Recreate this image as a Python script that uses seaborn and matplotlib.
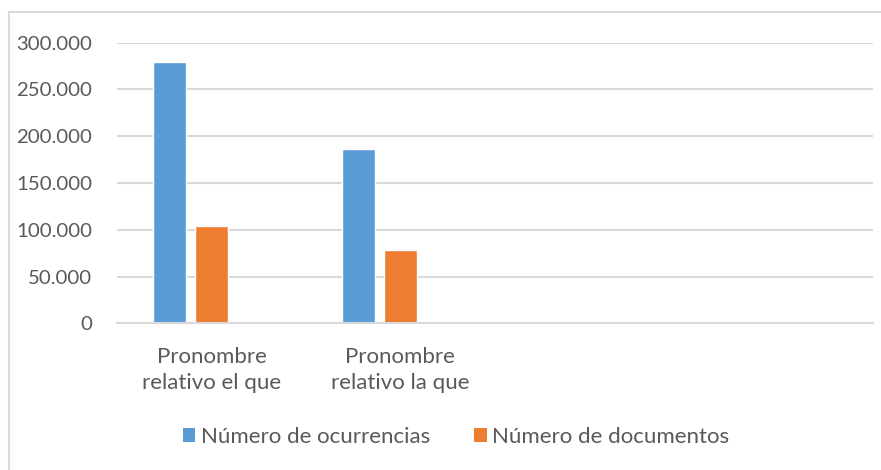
import matplotlib
matplotlib.use("Agg")
import matplotlib.pyplot as plt
from matplotlib.patches import Rectangle, Patch
import seaborn as sns
import pandas as pd
import numpy as np

categories = ["Pronombre\nrelativo el que", "Pronombre\nrelativo la que", "", " "]
series_names = ["Número de ocurrencias", "Número de documentos", "_empty"]
ocurrencias = [279500, 186000, np.nan, np.nan]
documentos = [104500, 78500, np.nan, np.nan]
empty_series = [np.nan, np.nan, np.nan, np.nan]
yticks = [0, 50000, 100000, 150000, 200000, 250000, 300000]
ytick_labels = ["0", "50.000", "100.000", "150.000", "200.000", "250.000", "300.000"]
colors = ["#5b9bd5", "#ed7d31", "#a5a5a5"]

rows = []
for name, vals in zip(series_names, [ocurrencias, documentos, empty_series]):
    for c, v in zip(categories, vals):
        rows.append({"cat": c, "serie": name, "valor": v})
df = pd.DataFrame(rows)

sns.set_theme(style="white")
plt.rcParams["font.family"] = ["Lato", "DejaVu Sans"]

W, H = 881, 470
fig = plt.figure(figsize=(W / 100, H / 100), dpi=100)
ax = fig.add_axes([117 / W, (H - 323.3) / H, (872.7 - 117) / W, (323.3 - 42.7) / H])

sns.barplot(data=df, x="cat", y="valor", hue="serie", order=categories,
            hue_order=series_names, palette=colors, ax=ax, width=0.671,
            gap=0.213, legend=False, errorbar=None, saturation=1)

ax.set_ylim(0, 300000)
ax.set_xlim(-0.5, 3.5)
ax.set_yticks(yticks)
ax.set_yticklabels(ytick_labels)
ax.yaxis.grid(True, color="#d9d9d9", linewidth=1.5)
ax.set_axisbelow(True)
for s in ["top", "right", "left"]:
    ax.spines[s].set_visible(False)
ax.spines["bottom"].set_color("#d9d9d9")
ax.spines["bottom"].set_linewidth(1.5)
ax.set_xlabel("")
ax.set_ylabel("")
ax.tick_params(axis="both", length=0, labelcolor="#595959")
ax.tick_params(axis="y", pad=18, labelsize=14.7)
ax.tick_params(axis="x", pad=17, labelsize=16)
for lbl in ax.get_xticklabels():
    lbl.set_linespacing(1.38)
for lbl in ax.get_yticklabels():
    lbl.set_horizontalalignment("right")

handles = [Patch(facecolor=colors[0], edgecolor="none"),
           Patch(facecolor=colors[1], edgecolor="none")]
fig.legend(handles, series_names[:2], loc="center", bbox_to_anchor=(456 / W, 1 - 437 / H),
           ncol=2, frameon=False, fontsize=16, labelcolor="#595959",
           handlelength=0.55, handleheight=0.55, handletextpad=0.25, columnspacing=2.0)

fig.patches.append(Rectangle((8.7 / W, -0.05), 1.0, 1 - 11.5 / H + 0.05,
                             transform=fig.transFigure, fill=False,
                             edgecolor="#d9d9d9", linewidth=1.5))

fig.savefig("out.png", dpi=100, facecolor="white")
